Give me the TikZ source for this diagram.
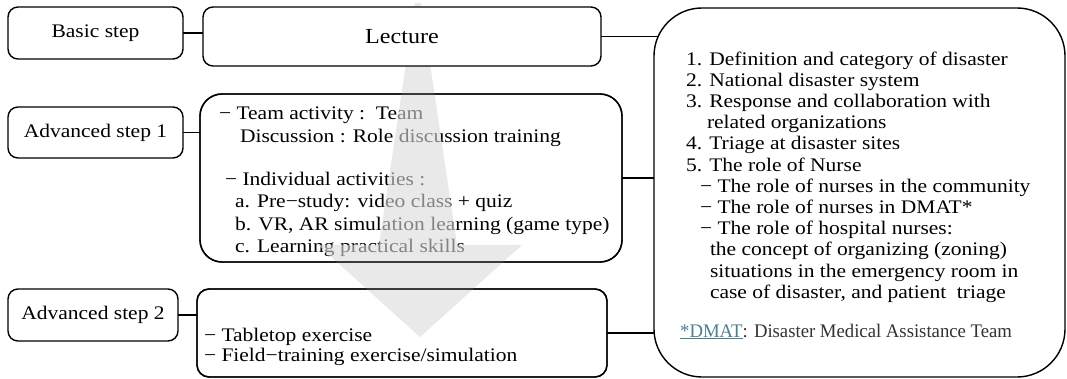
\documentclass[tikz,border=0pt]{standalone}
\usepackage{graphicx}
\usepackage{fontspec}
\setmainfont{Liberation Serif}[FakeStretch=1.12]
\usetikzlibrary{backgrounds}
\definecolor{dmatcol}{HTML}{4D7F93}
\definecolor{footcol}{HTML}{333333}
\tikzset{
  box/.style={draw, line width=1.4pt, fill=white, rounded corners=10pt, outer sep=0pt, inner sep=0pt, anchor=north west},
  lbl/.style={font=\fontsize{19.2}{21.2}\selectfont},
  txt/.style={inner sep=0pt, outer sep=0pt, align=left, anchor=north west},
  conn/.style={line width=1.4pt},
  border/.style={line width=1.4pt},
}
\begin{document}
\begin{tikzpicture}[x=1pt,y=-1pt]
\useasboundingbox (0,0) rectangle (1067,379);
% left step boxes
\node[box, lbl, minimum width=175pt, minimum height=52pt] (basic) at (8,7) {Basic step};
\node[box, lbl, minimum width=175pt, minimum height=51pt] (a1) at (8,107) {Advanced step 1};
\node[box, lbl, minimum width=170pt, minimum height=52pt] (a2) at (8,289) {Advanced step 2};
% big content box
\node[box, rounded corners=48pt, minimum width=411pt, minimum height=369pt] (big) at (654,8) {};
% content boxes
\node[box, rounded corners=22pt, minimum width=422pt, minimum height=168pt] (a1c) at (200,94) {};
\node[box, rounded corners=12pt, minimum width=410pt, minimum height=88pt] (a2c) at (197,289) {};
% texts
\node[txt, font=\fontsize{19.2}{21.2}\selectfont] (rtxt) at (686,50.16) {\strut 1. Definition and category of disaster\\
2. National disaster system\\
3. Response and collaboration with\\
\hspace*{21pt}related organizations\\
4. Triage at disaster sites\\
5. The role of Nurse\\
\hspace*{14pt}− The role of nurses in the community\\
\hspace*{14pt}− The role of nurses in DMAT*\\
\hspace*{14pt}− The role of hospital nurses:\\
\hspace*{24pt}the concept of organizing (zoning)\\
\hspace*{24pt}situations in the emergency room in\\
\hspace*{24pt}case of disaster, and patient\ \ triage};
\node[inner sep=0pt, anchor=base west, font=\fontsize{19.2}{21.2}\selectfont] (fn) at (680,337)
  {\scalebox{0.87}[1]{\textcolor{dmatcol}{\underline{*DMAT}}\textcolor{footcol}{: Disaster Medical Assistance Team}}};
\node[txt, font=\fontsize{19.2}{22}\selectfont] (t1) at (219,104.6) {\strut − Team activity :\ \ Team\\
\hspace*{21pt}Discussion : Role discussion training\\[22pt]
\hspace*{6pt}− Individual activities :\\
\hspace*{16pt}a. Pre−study: video class + quiz\\
\hspace*{16pt}b. VR, AR simulation learning (game type)\\
\hspace*{16pt}c. Learning practical skills};
\node[txt, font=\fontsize{19.2}{20}\selectfont] (t2) at (204,327) {\strut − Tabletop exercise\\
− Field−training exercise/simulation};
% big translucent arrow
\fill[black!14, fill opacity=0.6] (415,3) -- (421,3) -- (457,245) -- (522,245) -- (420,337) -- (318,245) -- (379,245) -- cycle;
% borders on top of the arrow
\draw[border, rounded corners=22pt] (a1c.south west) rectangle (a1c.north east);
\draw[border, rounded corners=12pt] (a2c.south west) rectangle (a2c.north east);
% lecture box above the arrow
\node[box, minimum width=398pt, minimum height=59pt, font=\fontsize{21.5}{24}\selectfont] (lec) at (203,7) {Lecture};
% connectors
\begin{scope}[on background layer]
\draw[conn] (basic.east) -- (basic.east -| lec.west);
\draw[conn] (lec.east) -- (lec.east -| big.center);
\draw[conn] (a1.east) -- (a1.east -| a1c.west);
\draw[conn] (a1c.east) -- (a1c.east -| big.west);
\draw[conn] (a2.east) -- (a2.east -| a2c.west);
\draw[conn] (a2c.east) -- (a2c.east -| big.west);
\end{scope}
\end{tikzpicture}
\end{document}
